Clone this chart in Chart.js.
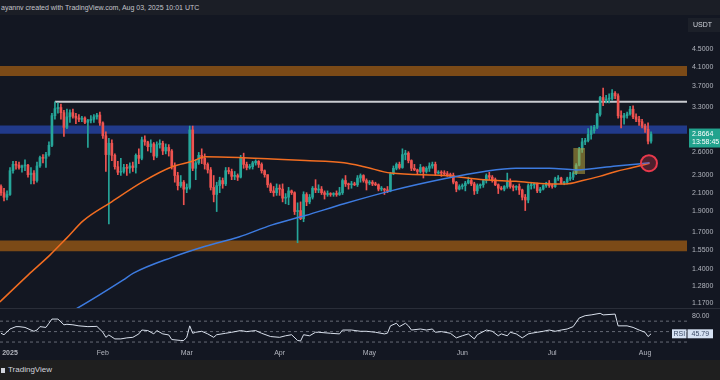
<!DOCTYPE html>
<html><head><meta charset="utf-8">
<script src="https://cdn.jsdelivr.net/npm/chart.js@4.4.1/dist/chart.umd.min.js"></script>
<style>
html,body{margin:0;padding:0;background:#131722;width:720px;height:380px;overflow:hidden;}
#hdr{position:absolute;left:0;top:0;width:720px;height:15px;background:#1b1e26;color:#c3c5cb;font:7px "Liberation Sans",Arial,sans-serif;line-height:15px;white-space:nowrap;padding-left:1px;}
#ftr{position:absolute;left:0;top:360px;width:720px;height:20px;background:#1f1f1f;color:#d1d4dc;font:8px "Liberation Sans",Arial,sans-serif;line-height:20px;white-space:nowrap;}
#ftr b{display:inline-block;width:4px;height:5px;background:#d1d4dc;margin:0 3px 0 1px;vertical-align:-1px;}
canvas{position:absolute;left:0;}
</style></head><body>
<div id="hdr">ayannv created with TradingView.com, Aug 03, 2025 10:01 UTC</div>
<canvas id="main" width="720" height="308" style="top:0"></canvas>
<canvas id="rsi" width="720" height="52" style="top:308px"></canvas>
<div id="ftr"><b></b>TradingView</div>
<script>
// ---- data (XRP/USDT daily, first candle = Dec 29 2024, day offset -3 from Jan 1 2025) ----
const firstDay = -3;
const opens = [2.17,2.10,2.05,2.08,2.36,2.44,2.43,2.40,2.42,2.43,2.31,2.33,2.24,
2.42,2.53,2.52,2.57,2.70,3.16,3.28,3.30,3.21,2.97,
3.14,3.21,3.15,3.12,3.10,3.12,3.05,3.08,3.10,3.14,
3.17,3.04,2.84,2.57,2.73,2.56,2.41,2.34,2.35,2.40,
2.39,2.42,2.40,2.56,2.52,2.78,2.75,2.68,2.72,2.55,
2.71,2.73,2.62,2.67,2.62,2.42,2.30,2.18,2.22,2.14,
2.16,2.93,2.39,2.46,2.56,2.52,2.44,2.37,2.16,2.08,
2.18,2.24,2.20,2.36,2.35,2.29,2.30,2.28,2.53,2.44,
2.40,2.41,2.46,2.48,2.44,2.36,2.31,2.19,2.12,2.10,
2.15,2.14,2.04,2.05,2.12,2.10,1.90,1.91,1.83,2.08,
2.00,2.05,2.15,2.13,2.14,2.10,2.08,2.09,2.08,2.09,
2.08,2.10,2.24,2.20,2.19,2.20,2.19,2.27,2.30,2.24,
2.21,2.22,2.20,2.19,2.14,2.14,2.13,2.12,2.32,2.39,
2.44,2.40,2.57,2.59,2.49,2.39,2.37,2.35,2.40,2.35,
2.39,2.42,2.44,2.33,2.34,2.33,2.32,2.31,2.30,2.22,
2.14,2.17,2.18,2.21,2.24,2.20,2.12,2.18,2.19,2.24,
2.30,2.28,2.25,2.19,2.15,2.14,2.17,2.22,2.17,2.16,
2.17,2.13,2.05,2.02,2.18,2.19,2.20,2.12,2.14,2.18,
2.21,2.18,2.17,2.26,2.27,2.21,2.22,2.26,2.28,2.33,
2.43,2.64,2.75,2.77,2.86,2.92,2.97,3.18,3.48,3.43,
3.45,3.46,3.56,3.51,3.16,3.13,3.16,3.19,3.27,3.14,
3.10,3.06,2.99,2.94,2.76];
const highs = [2.19,2.15,2.12,2.40,2.48,2.48,2.47,2.43,2.50,2.44,2.40,2.36,2.47,
2.55,2.57,2.60,2.75,3.20,3.40,3.38,3.36,3.25,3.27,
3.26,3.27,3.20,3.18,3.15,3.14,3.10,3.16,3.18,3.20,
3.22,3.06,2.90,2.80,2.78,2.58,2.48,2.52,2.44,2.44,
2.46,2.47,2.58,2.65,2.82,2.84,2.76,2.78,2.74,2.75,
2.78,2.76,2.72,2.71,2.64,2.46,2.34,2.30,2.24,2.20,
2.99,2.99,2.50,2.60,2.65,2.58,2.46,2.40,2.30,2.22,
2.28,2.27,2.40,2.40,2.38,2.35,2.32,2.56,2.59,2.47,
2.44,2.48,2.50,2.49,2.46,2.37,2.31,2.21,2.17,2.20,
2.19,2.20,2.09,2.16,2.13,2.11,1.99,2.00,2.11,2.10,
2.08,2.17,2.25,2.19,2.17,2.12,2.12,2.10,2.10,2.12,
2.16,2.26,2.30,2.21,2.23,2.22,2.30,2.32,2.31,2.26,
2.24,2.24,2.22,2.20,2.17,2.15,2.17,2.34,2.42,2.46,
2.47,2.65,2.63,2.61,2.50,2.44,2.38,2.44,2.41,2.41,
2.46,2.47,2.47,2.36,2.36,2.36,2.35,2.33,2.33,2.23,
2.19,2.20,2.23,2.28,2.26,2.22,2.20,2.20,2.25,2.32,
2.34,2.30,2.27,2.20,2.17,2.18,2.33,2.26,2.19,2.18,
2.20,2.14,2.08,2.20,2.22,2.21,2.21,2.16,2.19,2.22,
2.24,2.20,2.28,2.30,2.28,2.23,2.28,2.34,2.35,2.45,
2.67,2.80,2.80,2.95,2.99,3.00,3.20,3.50,3.66,3.52,
3.55,3.63,3.59,3.55,3.24,3.20,3.22,3.32,3.33,3.19,
3.15,3.10,3.02,3.04,2.90];
const lows = [2.07,2.01,2.02,2.07,2.33,2.38,2.38,2.34,2.36,2.28,2.20,2.20,2.22,
2.40,2.46,2.40,2.55,2.68,3.10,3.20,3.10,2.83,2.95,
3.05,3.12,3.03,3.06,3.06,3.03,2.67,3.04,3.05,3.10,
3.00,2.80,2.35,1.78,2.49,2.38,2.31,2.30,2.33,2.30,
2.33,2.35,2.33,2.45,2.50,2.70,2.62,2.60,2.50,2.53,
2.66,2.57,2.58,2.55,2.38,2.22,2.13,2.16,1.97,2.10,
2.14,2.36,2.25,2.44,2.45,2.38,2.33,2.13,2.00,1.90,
2.10,2.15,2.18,2.32,2.25,2.25,2.24,2.27,2.39,2.37,
2.38,2.38,2.43,2.40,2.33,2.28,2.16,2.10,2.06,2.07,
2.07,2.00,1.98,1.97,2.08,1.87,1.61,1.82,1.80,1.96,
1.98,2.03,2.10,2.10,2.08,2.03,2.06,2.06,2.06,2.06,
2.07,2.08,2.17,2.14,2.15,2.18,2.17,2.22,2.22,2.13,
2.19,2.18,2.18,2.12,2.12,2.08,2.10,2.11,2.31,2.37,
2.38,2.39,2.50,2.46,2.36,2.36,2.31,2.33,2.27,2.33,
2.35,2.39,2.30,2.32,2.29,2.31,2.29,2.28,2.20,2.11,
2.13,2.14,2.12,2.20,2.18,2.08,2.09,2.15,2.16,2.21,
2.25,2.22,2.18,2.09,2.13,2.12,2.15,2.15,2.12,2.13,
2.08,2.02,1.91,1.99,2.14,2.15,2.10,2.10,2.13,2.16,
2.16,2.15,2.16,2.24,2.20,2.19,2.20,2.24,2.25,2.31,
2.42,2.60,2.71,2.75,2.79,2.88,2.95,3.15,3.33,3.38,
3.38,3.43,3.46,3.12,2.96,3.02,3.12,3.17,3.11,3.06,
3.00,2.96,2.89,2.72,2.73];
const closes = [2.10,2.05,2.08,2.36,2.44,2.43,2.40,2.42,2.43,2.31,2.33,2.24,2.42,
2.53,2.52,2.57,2.70,3.16,3.28,3.30,3.21,2.97,3.14,
3.21,3.15,3.12,3.10,3.12,3.05,3.08,3.10,3.14,3.17,
3.04,2.84,2.57,2.73,2.56,2.41,2.34,2.35,2.40,2.39,
2.42,2.40,2.56,2.52,2.78,2.75,2.68,2.72,2.55,2.71,
2.73,2.62,2.67,2.62,2.42,2.30,2.18,2.22,2.14,2.16,
2.93,2.39,2.46,2.56,2.52,2.44,2.37,2.16,2.08,2.18,
2.24,2.20,2.36,2.35,2.29,2.30,2.28,2.53,2.44,2.40,
2.41,2.46,2.48,2.44,2.36,2.31,2.19,2.12,2.10,2.15,
2.14,2.04,2.05,2.12,2.10,1.90,1.91,1.83,2.08,2.00,
2.05,2.15,2.13,2.14,2.10,2.08,2.09,2.08,2.09,2.08,
2.10,2.24,2.20,2.19,2.20,2.19,2.27,2.30,2.24,2.21,
2.22,2.20,2.19,2.14,2.14,2.13,2.12,2.32,2.39,2.44,
2.40,2.57,2.59,2.49,2.39,2.37,2.35,2.40,2.35,2.39,
2.42,2.44,2.33,2.34,2.33,2.32,2.31,2.30,2.22,2.14,
2.17,2.18,2.21,2.24,2.20,2.12,2.18,2.19,2.24,2.30,
2.28,2.25,2.19,2.15,2.14,2.17,2.22,2.17,2.16,2.17,
2.13,2.05,2.02,2.18,2.19,2.20,2.12,2.14,2.18,2.21,
2.18,2.17,2.26,2.27,2.21,2.22,2.26,2.28,2.33,2.43,
2.64,2.75,2.77,2.86,2.92,2.97,3.18,3.48,3.43,3.45,
3.46,3.56,3.51,3.16,3.13,3.16,3.19,3.27,3.14,3.10,
3.06,2.99,2.94,2.76,2.8664];

// moving averages (orange = shorter, blue = longer), sampled read-offs
const maFastDays = [-3.4,6.1,13.4,18.9,24.5,33.4,44.5,54.1,60.8,65.2,76.4,87.5,98.6,111.5,118.2,127.1,144.9,158.3,168.9,180.1,185.6,191.2,196.8,202.3,207.9,213.5];
const maFastVals = [1.176,1.358,1.51,1.65,1.81,1.99,2.23,2.41,2.48,2.54,2.53,2.51,2.49,2.46,2.41,2.33,2.30,2.25,2.23,2.20,2.20,2.24,2.29,2.35,2.40,2.455];
const maSlowDays = [15,21.7,37.7,41.2,54.1,65.2,76.4,87.5,98.6,111.5,127.1,144.9,158.3,168.9,180.1,189,202.3,213.5];
const maSlowVals = [1.07,1.13,1.32,1.37,1.49,1.58,1.66,1.77,1.86,1.98,2.12,2.26,2.35,2.39,2.39,2.37,2.42,2.46];

// RSI(14)
const rsiDays = [-3,-2,0,2,3,5,7,8,9,10,12,13,14,16,18,19,21,23,26,29,31,32,33,35,37,39,41,43,44,46,48,49,51,53,54,57,58,59,60,61,62,64,66,68,69,72,74,77,79,82,84,87,90,92,94,96,97,98,100,102,103,107,110,111,114,117,119,122,125,126,127,129,130,132,133,134,137,139,141,142,144,147,149,151,153,155,156,159,161,163,164,166,167,169,171,173,174,176,178,180,182,184,186,188,190,192,194,197,198,202,203,206,208,210,212,213,214];
const rsiVals = [46.8,44,55,59.5,59.5,58,53,50.6,53,59.5,58,66,74,74,63,64,63,61,59.5,60,48.7,39,43.6,36,36,38,39,45.6,53,52,45.6,52,45.6,43.6,34.8,33,33,39,61,46.8,48.7,50.6,45.6,39,44,46.8,48.7,52,50,52,46.8,40.5,39,42,44,33,32,44,42,48.7,48.7,46.8,45.6,53,53,50.6,50.6,48.7,45.6,47,61,66,59.5,66,61,53,55,53,55,48.7,50,46.8,38,42,45.6,36,44,53,50.6,42,45.6,42,48.7,45.6,38,45.6,46.8,48.7,50.6,53,50.6,53,55,59.5,76,80.5,82,85,82,83.5,61,61,58,53,48.7,40.5,45.79];
const rsiLevels = [70,50,30];

// drawings: price zones [low, high], resistance, highlight box, marker
const supplyZone = [3.90,4.11];
const midZone = [2.87,3.00];
const demandZone = [1.54,1.63];
const resistLevel = 3.40, resistStartDay = 15;
const breakoutBox = {from:188, to:192, low:2.32, high:2.66};
const crossMarker = {day:213.3, price:2.455};

// axis ticks
const priceTicks = [4.5,4.1,3.7,3.3,2.6,2.3,2.1,1.9,1.7,1.55,1.4,1.28,1.17];
const monthTickDays = [0,31,59,90,120,151,181,212];
const monthLabels = ['2025','Feb','Mar','Apr','May','Jun','Jul','Aug'];
const quoteCcy = 'USDT';
const countdown = '13:58:45';

// ---- chart ----
const X_MIN = -3.34, X_MAX = 226;
const UP = '#26a69a', DOWN = '#ef5350';
const FONT = '"Liberation Sans", Arial, sans-serif';
const candleColors = closes.map((c,i)=> c>=opens[i] ? UP : DOWN);
const noPad = s => { s.paddingTop = 0; s.paddingBottom = 0; s.paddingLeft = 0; s.paddingRight = 0; };

function hline(y, x0, x1, extra){
  return Object.assign({type:'line', data:[{x:x0,y:y},{x:x1,y:y}], pointRadius:0, borderColor:'rgba(0,0,0,0)', borderWidth:1, fill:false}, extra||{});
}
function zone(z, color, order){
  return [hline(z[1], X_MIN, X_MAX, {order:order}),
          hline(z[0], X_MIN, X_MAX, {order:order, fill:'-1', backgroundColor:color})];
}
function box(b, color, order){
  return [hline(b.high, b.from, b.to, {order:order}),
          hline(b.low, b.from, b.to, {order:order, fill:'-1', backgroundColor:color})];
}

const datasets = [
  ...zone(supplyZone, '#7b4a17', 20),
  ...zone(midZone, '#213a8a', 20),
  ...zone(demandZone, '#7b4a17', 20),
  hline(resistLevel, resistStartDay, X_MAX, {order:19, borderColor:'#c9cbd0', borderWidth:2}),
  {type:'bar', grouped:false, order:12, barThickness:1,
   data: closes.map((c,i)=>({x:i+firstDay, y:[lows[i],highs[i]]})), backgroundColor:candleColors},
  {type:'bar', grouped:false, order:11, barThickness:2, minBarLength:1,
   data: closes.map((c,i)=>({x:i+firstDay, y:[opens[i],c]})), backgroundColor:candleColors},
  ...box(breakoutBox, 'rgba(185,165,60,0.55)', 10),
  {type:'line', order:5, data: maFastDays.map((d,i)=>({x:d,y:maFastVals[i]})), borderColor:'#f26d21', borderWidth:1.5, pointRadius:0, cubicInterpolationMode:'monotone'},
  {type:'line', order:4, data: maSlowDays.map((d,i)=>({x:d,y:maSlowVals[i]})), borderColor:'#3d7be0', borderWidth:1.5, pointRadius:0, cubicInterpolationMode:'monotone'},
  {type:'line', order:1, data:[{x:crossMarker.day, y:crossMarker.price}], showLine:false, pointRadius:8, pointBorderWidth:2, pointBorderColor:'#e8394c', pointBackgroundColor:'rgba(232,57,76,0.28)'}
];

const mainDecor = {id:'mainDecor', afterDraw(c){
  const ctx=c.ctx, ys=c.scales.y;
  ctx.save();
  ctx.fillStyle='#1c2029'; ctx.fillRect(688,18,32,14);
  ctx.fillStyle='#d1d4dc'; ctx.font='7px '+FONT; ctx.textBaseline='middle'; ctx.textAlign='left';
  ctx.fillText(quoteCcy,693,25);
  const last = closes[closes.length-1];
  const py = ys.getPixelForValue(last);
  ctx.fillStyle='#22a38e'; ctx.fillRect(689,py-5.5,31,19);
  ctx.fillStyle='#ffffff';
  ctx.fillText(last.toFixed(4),692,py+0.5);
  ctx.fillText(countdown,692,py+8.5);
  ctx.restore();
}};

new Chart(document.getElementById('main'), {
  type:'bar',
  data:{datasets:datasets},
  options:{
    responsive:false, animation:false, devicePixelRatio:1,
    layout:{autoPadding:false, padding:{top:15,left:0,right:0,bottom:0}},
    plugins:{legend:{display:false}, tooltip:{enabled:false}},
    scales:{
      x:{type:'linear', min:X_MIN, max:X_MAX, offset:false, display:false, grid:{offset:false}},
      y:{type:'logarithmic', position:'right', min:1.139, max:5.39,
         afterBuildTicks:s=>{ s.ticks = priceTicks.map(v=>({value:v})); },
         afterFit:s=>{ s.width = 33; noPad(s); },
         grid:{display:false, drawTicks:false}, border:{display:false},
         ticks:{autoSkip:false, color:'#b2b5be', padding:5, font:{size:7, family:FONT}, callback:v=>Number(v).toFixed(4)}}
    }
  },
  plugins:[mainDecor]
});

const rsiDecor = {id:'rsiDecor', afterDraw(c){
  const ctx=c.ctx, ys=c.scales.y;
  ctx.save();
  ctx.strokeStyle='#2a2e39'; ctx.lineWidth=1;
  ctx.beginPath(); ctx.moveTo(0,0.5); ctx.lineTo(720,0.5); ctx.stroke();
  const v = rsiVals[rsiVals.length-1];
  const py = ys.getPixelForValue(v);
  ctx.fillStyle='#d6e2f3';
  ctx.fillRect(672,py-4.5,14.5,9);
  ctx.fillRect(687.5,py-4.5,25.5,9);
  ctx.fillStyle='#3b4a66'; ctx.font='7px '+FONT; ctx.textBaseline='middle'; ctx.textAlign='center';
  ctx.fillText('RSI',679.3,py+0.5);
  ctx.fillText(v.toFixed(2),700.3,py+0.5);
  ctx.restore();
}};

new Chart(document.getElementById('rsi'), {
  type:'line',
  data:{datasets:[
    {data: rsiDays.map((d,i)=>({x:d,y:rsiVals[i]})), borderColor:'#d9e0ec', borderWidth:1, pointRadius:0, tension:0},
    ...rsiLevels.map(l=>({data:[{x:X_MIN,y:l},{x:X_MAX,y:l}], borderColor:'rgba(130,134,145,0.75)', borderWidth:1, borderDash:[3,3], pointRadius:0}))
  ]},
  options:{
    responsive:false, animation:false, devicePixelRatio:1,
    layout:{autoPadding:false, padding:0},
    plugins:{legend:{display:false}, tooltip:{enabled:false}},
    scales:{
      x:{type:'linear', min:X_MIN, max:X_MAX, offset:false,
         afterBuildTicks:s=>{ s.ticks = monthTickDays.map(v=>({value:v})); },
         afterFit:s=>{ s.height = 13; noPad(s); },
         grid:{display:false, drawTicks:false}, border:{display:false},
         ticks:{autoSkip:false, maxRotation:0, padding:2, color:'#b2b5be',
                font:(ctx)=>({size:7, family:FONT, weight: ctx.index===0 ? 'bold' : 'normal'}),
                callback:(v,i)=>monthLabels[i]}},
      y:{position:'right', min:20.5, max:95.2,
         afterBuildTicks:s=>{ s.ticks = [{value:80}]; },
         afterFit:s=>{ s.width = 33; noPad(s); },
         grid:{display:false, drawTicks:false}, border:{display:false},
         ticks:{autoSkip:false, color:'#b2b5be', padding:5, font:{size:7, family:FONT}, callback:v=>Number(v).toFixed(2)}}
    }
  },
  plugins:[rsiDecor]
});
</script>
</body></html>
